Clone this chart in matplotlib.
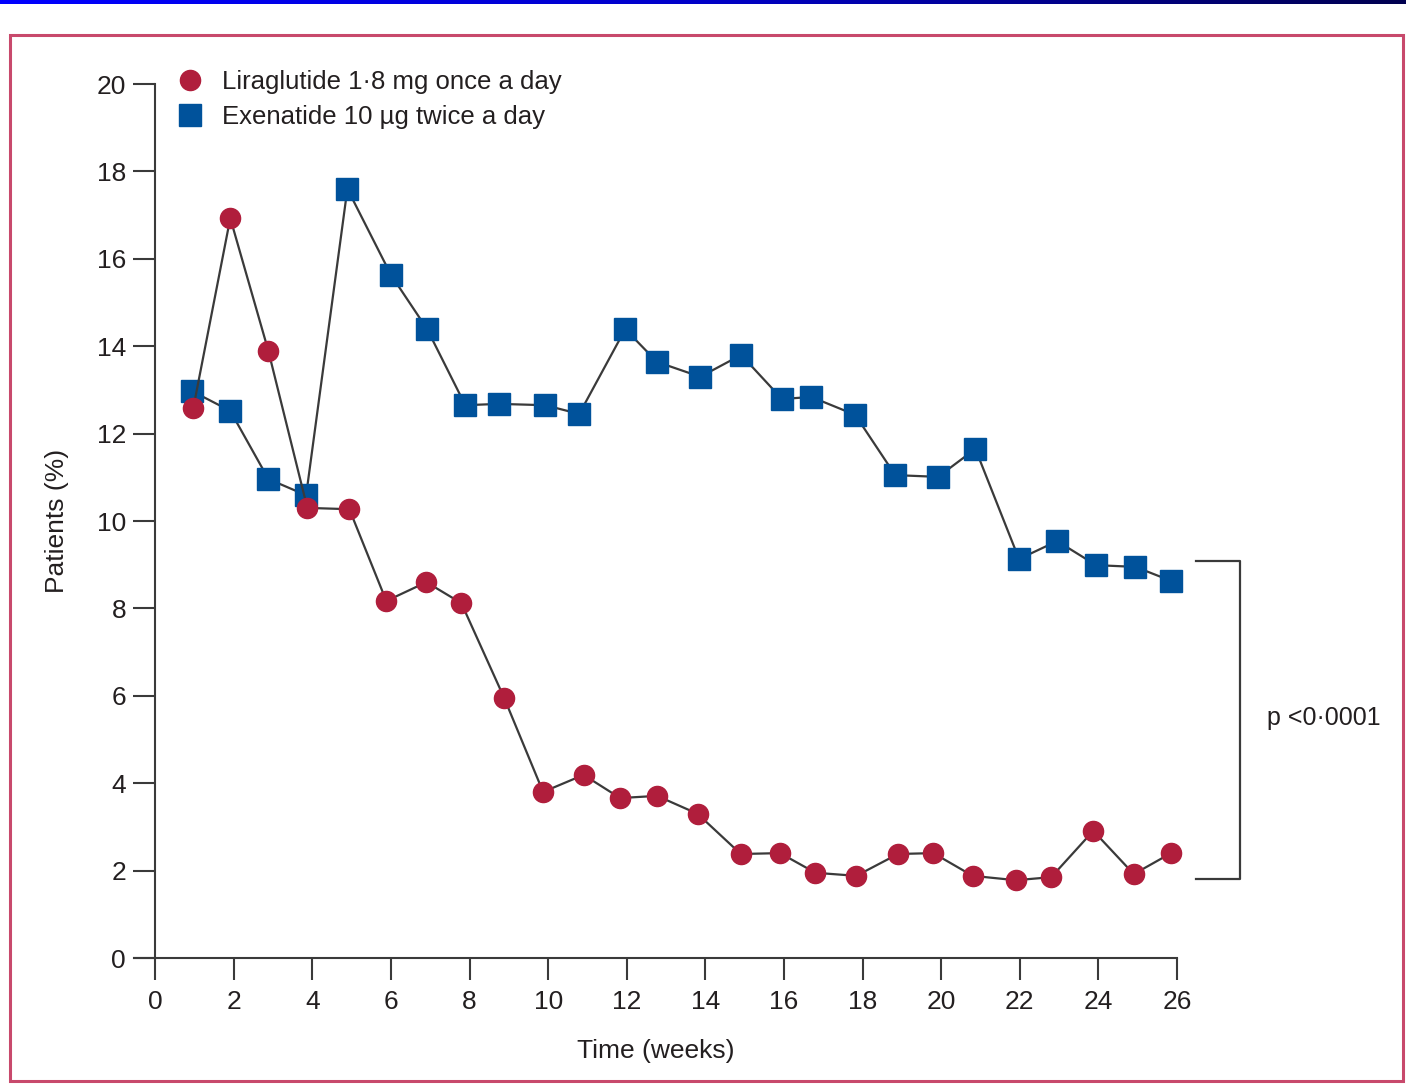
import numpy as np
import matplotlib.pyplot as plt
from matplotlib.patches import Rectangle
from matplotlib.colors import LinearSegmentedColormap

plt.rcParams['font.family'] = ['Liberation Sans', 'DejaVu Sans']

# semanas (posiciones)
weeks_lira = [0.97, 1.91, 2.88, 3.87, 4.94, 5.88, 6.9, 7.79, 8.88, 9.87, 10.9, 11.83, 12.77,
              13.8, 14.9, 15.9, 16.8, 17.84, 18.9, 19.8, 20.8, 21.9, 22.8, 23.87, 24.9, 25.85]
lira = [12.59, 16.93, 13.89, 10.30, 10.27, 8.17, 8.60, 8.12, 5.95, 3.80, 4.19, 3.66, 3.71,
        3.30, 2.38, 2.40, 1.95, 1.88, 2.38, 2.40, 1.88, 1.78, 1.85, 2.91, 1.92, 2.40]

weeks_exe = [0.94, 1.91, 2.88, 3.84, 4.89, 6.0, 6.92, 7.89, 8.75, 9.92, 10.79, 11.96, 12.77,
             13.87, 14.91, 15.95, 16.69, 17.81, 18.83, 19.92, 20.87, 21.98, 22.95, 23.94, 24.94, 25.85]
exe = [12.97, 12.52, 10.96, 10.59, 17.60, 15.63, 14.39, 12.65, 12.68, 12.65, 12.45, 14.39, 13.64,
       13.30, 13.80, 12.79, 12.84, 12.43, 11.05, 11.01, 11.65, 9.13, 9.54, 8.99, 8.95, 8.63]

labels = ['Liraglutide 1·8 mg once a day', 'Exenatide 10 µg twice a day']
x_ticks = list(range(0, 27, 2))
y_ticks = list(range(0, 21, 2))

red = '#B01E3C'
blue = '#00529B'
line_col = '#3a3a3a'
txt = '#231f20'

fig = plt.figure(figsize=(14.06, 10.84), dpi=100)

# barra azul superior y marco
grad = np.linspace(0, 1, 256).reshape(1, -1)
bar_ax = fig.add_axes([0, 1 - 4 / 1084, 1, 4 / 1084])
cmap = LinearSegmentedColormap.from_list('b', ['#0000ff', '#0000c8', '#000050'])
bar_ax.imshow(grad, aspect='auto', cmap=cmap)
bar_ax.axis('off')
fig.patches.append(Rectangle((10 / 1406, 3 / 1084), 1393 / 1406, 1046 / 1084, transform=fig.transFigure,
                             fill=False, edgecolor='#C8496C', linewidth=2.2))

xl = -0.54
ax = fig.add_axes([134 / 1406, 1 - 958 / 1084, (1177 - 134) / 1406, (958 - 84) / 1084])
ax.plot(weeks_lira, lira, color=line_col, lw=1.6, marker='o', ms=14.5,
        mfc=red, mec=red, label=labels[0], zorder=3, clip_on=False)
ax.plot(weeks_exe, exe, color=line_col, lw=1.6, marker='s', ms=15.5,
        mfc=blue, mec=blue, label=labels[1], zorder=2, clip_on=False)

ax.set_xlim(xl, 26)
ax.set_ylim(0, 20)
ax.spines['top'].set_visible(False)
ax.spines['right'].set_visible(False)
ax.spines['left'].set_position(('data', 0))
ax.spines['bottom'].set_bounds(xl, 26)
for s in ['left', 'bottom']:
    ax.spines[s].set_color(line_col)
    ax.spines[s].set_linewidth(1.5)
ax.set_xticks(x_ticks)
ax.set_yticks(y_ticks)
ax.tick_params(direction='out', length=16, width=1.5, color=line_col, labelsize=19,
               labelcolor=txt)
ax.tick_params(axis='x', pad=7)
ax.tick_params(axis='y', pad=5)
ax.patch.set_visible(False)

ax.set_xlabel('Time (weeks)', fontsize=19, color=txt, labelpad=18)
ax.set_ylabel('Patients (%)', fontsize=19, color=txt, labelpad=20)

# leyenda
leg = ax.legend([plt.Line2D([], [], ls='none', marker='o', ms=14.5, mfc=red, mec=red),
                 plt.Line2D([], [], ls='none', marker='s', ms=15.5, mfc=blue, mec=blue)],
                labels, loc='upper left', bbox_to_anchor=(0.019, 1.043), frameon=False,
                fontsize=18.5, handlelength=1.0, handletextpad=0.75, labelspacing=0.45,
                labelcolor=txt)

# corchete p-valor
bx0, bx1 = 1196 / 1406, 1240 / 1406
by0, by1 = 1 - 561 / 1084, 1 - 879 / 1084
fig.add_artist(plt.Line2D([bx0, bx1, bx1, bx0], [by0, by0, by1, by1], transform=fig.transFigure,
                          color=line_col, lw=1.6))
fig.text(1267 / 1406, 1 - 718 / 1084, 'p <0·0001', fontsize=18, color=txt, va='center', ha='left')

fig.savefig('out.png', dpi=100)
